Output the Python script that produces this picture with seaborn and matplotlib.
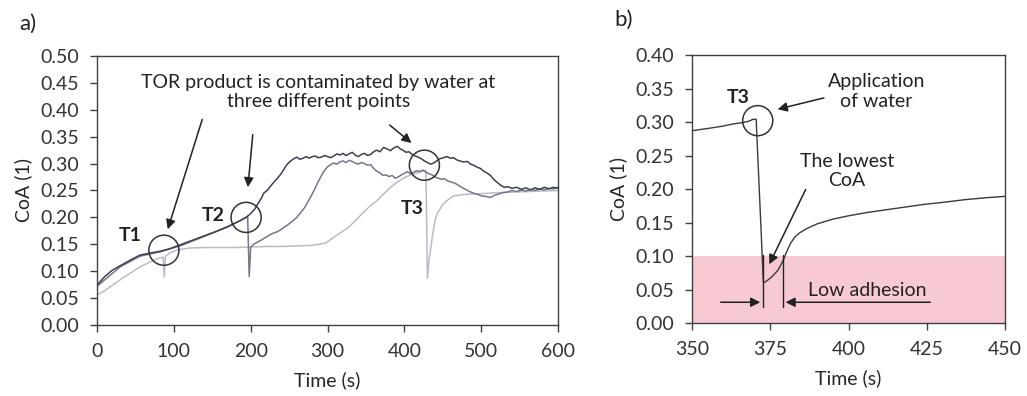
import numpy as np
import pandas as pd
import seaborn as sns
import matplotlib.pyplot as plt
from matplotlib.ticker import FormatStrFormatter, MultipleLocator

# ---------------- data: panel a (three TOR tests) ----------------
t_dark = [0, 10, 20, 30, 45, 56, 70, 82, 95, 110, 125, 140, 155, 170, 185, 194,
          199, 205, 210, 214, 217, 222, 228, 233, 239, 243, 246, 249, 252, 256,
          260, 264, 268, 272, 276, 280, 284, 288, 292, 296, 300, 304, 308, 312,
          316, 320, 324, 328, 332, 336, 340, 344, 348, 352, 356, 360, 364, 368,
          373, 378, 382, 386, 391, 395, 398, 402, 406, 410, 414, 418, 422, 426,
          430, 434, 438, 442, 446, 451, 455, 460, 464, 468, 472, 477, 482, 486,
          490, 495, 499, 503, 507, 512, 516, 520, 525, 530, 535, 540, 546, 552,
          558, 564, 570, 576, 582, 588, 594, 600]
coa_dark = [0.074, 0.090, 0.102, 0.110, 0.122, 0.130, 0.134, 0.137, 0.142, 0.150,
            0.158, 0.166, 0.174, 0.183, 0.193, 0.200,
            0.206, 0.215, 0.227, 0.236, 0.245, 0.251, 0.262, 0.270, 0.280, 0.289,
            0.296, 0.301, 0.305, 0.309, 0.312, 0.308, 0.310, 0.313, 0.310, 0.313,
            0.314, 0.311, 0.312, 0.315, 0.313, 0.311, 0.314, 0.318, 0.316, 0.319,
            0.315, 0.318, 0.321, 0.316, 0.313, 0.317, 0.319, 0.315, 0.317, 0.322,
            0.325, 0.322, 0.330, 0.327, 0.324, 0.329, 0.332, 0.327, 0.325, 0.321,
            0.322, 0.317, 0.314, 0.312, 0.309, 0.305, 0.302, 0.299, 0.301, 0.305,
            0.309, 0.311, 0.313, 0.310, 0.311, 0.307, 0.305, 0.303, 0.304, 0.299,
            0.297, 0.293, 0.291, 0.286, 0.283, 0.278, 0.271, 0.266, 0.260, 0.256,
            0.257, 0.254, 0.256, 0.252, 0.255, 0.251, 0.255, 0.252, 0.256, 0.253,
            0.256, 0.254]

t_mid = [0, 30, 56, 82, 110, 140, 170, 190, 196, 198, 200, 204, 210, 215, 222,
         228, 234, 239, 245, 250, 255, 260, 265, 270, 274, 278, 282, 285, 288,
         291, 294, 297, 300, 304, 308, 312, 316, 320, 324, 328, 332, 336, 340,
         344, 348, 352, 356, 360, 364, 368, 372, 376, 380, 384, 388, 392, 396,
         400, 404, 408, 412, 416, 420, 424, 428, 432, 436, 440, 444, 448, 452,
         456, 460, 465, 469, 473, 477, 481, 485, 490, 495, 500, 506, 512, 517,
         522, 528, 534, 540, 546, 552, 558, 564, 570, 576, 582, 588, 594, 600]
coa_mid = [0.072, 0.108, 0.128, 0.136, 0.148, 0.165, 0.182, 0.197, 0.202, 0.090,
           0.145, 0.150, 0.155, 0.159, 0.165, 0.170, 0.173, 0.177, 0.183, 0.188,
           0.194, 0.200, 0.209, 0.218, 0.228, 0.238, 0.249, 0.258, 0.267, 0.275,
           0.283, 0.289, 0.294, 0.298, 0.301, 0.299, 0.303, 0.305, 0.302, 0.306,
           0.304, 0.301, 0.299, 0.302, 0.300, 0.297, 0.298, 0.291, 0.286, 0.283,
           0.278, 0.279, 0.276, 0.278, 0.273, 0.275, 0.279, 0.282, 0.285, 0.281,
           0.284, 0.287, 0.285, 0.288, 0.284, 0.281, 0.279, 0.275, 0.273, 0.271,
           0.272, 0.268, 0.266, 0.264, 0.261, 0.257, 0.254, 0.251, 0.248, 0.245,
           0.243, 0.240, 0.239, 0.237, 0.241, 0.243, 0.246, 0.247, 0.250, 0.248,
           0.251, 0.249, 0.252, 0.250, 0.253, 0.251, 0.254, 0.253, 0.256]

t_light = [0, 10, 20, 30, 45, 56, 70, 80, 86, 87.5, 89, 95, 105, 120, 140, 160,
           180, 200, 220, 240, 260, 280, 297, 310, 326, 337, 347, 356, 365, 374,
           382, 390, 399, 408, 417, 424, 428, 430, 432, 435, 437, 440, 443, 450,
           456, 464, 480, 500, 520, 540, 560, 580, 600]
coa_light = [0.056, 0.064, 0.074, 0.084, 0.098, 0.108, 0.118, 0.124, 0.126, 0.090,
             0.128, 0.134, 0.140, 0.143, 0.144, 0.144, 0.144, 0.145, 0.146, 0.146,
             0.147, 0.148, 0.152, 0.165, 0.180, 0.195, 0.210, 0.222, 0.232, 0.245,
             0.256, 0.265, 0.273, 0.279, 0.283, 0.286, 0.287, 0.087, 0.120, 0.150,
             0.170, 0.195, 0.208, 0.224, 0.232, 0.240, 0.243, 0.244, 0.246, 0.247,
             0.248, 0.249, 0.250]

# ---------------- data: panel b (zoom on T3) ----------------
t_b = [350, 353, 356, 360, 363, 366, 368, 369.5, 370.5, 372.8, 373.3, 374.2, 375.5,
       377.5, 379.2, 380, 381.5, 382.8, 384.5, 386.7, 390, 395, 400, 406, 412,
       418, 424, 430, 437, 444, 450]
coa_b = [0.287, 0.289, 0.291, 0.294, 0.297, 0.299, 0.301, 0.304, 0.304, 0.061,
         0.061, 0.064, 0.069, 0.079, 0.094, 0.104, 0.119, 0.128, 0.135, 0.141,
         0.148, 0.155, 0.160, 0.165, 0.169, 0.173, 0.177, 0.180, 0.184, 0.187,
         0.189]

low_adhesion_limit = 0.10

sns.set_style("ticks")
plt.rcParams['font.family'] = ['Lato', 'DejaVu Sans']
plt.rcParams['axes.edgecolor'] = '#404040'
plt.rcParams['xtick.color'] = '#404040'
plt.rcParams['ytick.color'] = '#404040'
plt.rcParams['text.color'] = '#222222'

FS = 14

fig = plt.figure(figsize=(10.27, 3.96), dpi=100)
ax_a = fig.add_axes([0.0945, 0.1793, 0.4489, 0.6793])
ax_b = fig.add_axes([0.6738, 0.1843, 0.3048, 0.6768])

# ---- panel a ----
df_dark = pd.DataFrame({"t": t_dark, "coa": coa_dark})
df_mid = pd.DataFrame({"t": t_mid, "coa": coa_mid})
df_light = pd.DataFrame({"t": t_light, "coa": coa_light})
sns.lineplot(data=df_light, x="t", y="coa", ax=ax_a, color="#b9bcc4", lw=1.1,
             estimator=None, sort=False)
sns.lineplot(data=df_mid, x="t", y="coa", ax=ax_a, color="#74778a", lw=1.1,
             estimator=None, sort=False)
sns.lineplot(data=df_dark, x="t", y="coa", ax=ax_a, color="#3d4152", lw=1.1,
             estimator=None, sort=False)

ax_a.set_xlim(0, 600)
ax_a.set_ylim(0, 0.5)
ax_a.xaxis.set_major_locator(MultipleLocator(100))
ax_a.yaxis.set_major_locator(MultipleLocator(0.05))
ax_a.yaxis.set_major_formatter(FormatStrFormatter('%.2f'))
ax_a.set_xlabel("Time (s)", fontsize=FS, labelpad=8)
ax_a.set_ylabel("CoA (1)", fontsize=FS, labelpad=6)

# circles marking the three contamination points
circ = dict(marker='o', s=470, facecolors='none', edgecolors='#333333', linewidths=1.1, zorder=5)
ax_a.scatter([87, 194, 426], [0.139, 0.200, 0.297], **circ)
for lab, (x, y) in {"T1": (43, 0.167), "T2": (151, 0.204), "T3": (410, 0.217)}.items():
    ax_a.text(x, y, lab, fontsize=FS, fontweight='bold', ha='center', va='center')

ax_a.text(288, 0.433, "TOR product is contaminated by water at\nthree different points",
          fontsize=FS, ha='center', va='center', linespacing=1.2)
arrow = dict(arrowstyle='-|>', color='#222222', lw=1.1, mutation_scale=14)
ax_a.annotate("", xy=(91, 0.173), xytext=(138, 0.387), arrowprops=arrow)
ax_a.annotate("", xy=(196, 0.251), xytext=(203, 0.359), arrowprops=arrow)
ax_a.annotate("", xy=(412, 0.335), xytext=(378, 0.375), arrowprops=arrow)

# ---- panel b ----
ax_b.axhspan(0, low_adhesion_limit, color='#f6c9d3', lw=0, zorder=0)
df_b = pd.DataFrame({"t": t_b, "coa": coa_b})
sns.lineplot(data=df_b, x="t", y="coa", ax=ax_b, color="#3a3a3a", lw=1.0,
             estimator=None, sort=False)
ax_b.set_xlim(350, 450)
ax_b.set_ylim(0, 0.4)
ax_b.xaxis.set_major_locator(MultipleLocator(25))
ax_b.yaxis.set_major_locator(MultipleLocator(0.05))
ax_b.yaxis.set_major_formatter(FormatStrFormatter('%.2f'))
ax_b.set_xlabel("Time (s)", fontsize=FS, labelpad=8)
ax_b.set_ylabel("CoA (1)", fontsize=FS, labelpad=6)

ax_b.scatter([371], [0.302], **circ)
ax_b.text(364.7, 0.336, "T3", fontsize=FS, fontweight='bold', ha='center', va='center')
ax_b.text(409, 0.346, "Application\nof water", fontsize=FS, ha='center', va='center',
          linespacing=1.2)
ax_b.annotate("", xy=(376.5, 0.318), xytext=(393, 0.337), arrowprops=arrow)
ax_b.text(399.5, 0.227, "The lowest\nCoA", fontsize=FS, ha='center', va='center',
          linespacing=1.2)
ax_b.annotate("", xy=(374.3, 0.084), xytext=(386.7, 0.203), arrowprops=arrow)

# low-adhesion window markers
ax_b.plot([372.7, 372.7], [0.024, 0.101], color='#222222', lw=1.0)
ax_b.plot([379.0, 379.0], [0.024, 0.101], color='#222222', lw=1.0)
ax_b.annotate("", xy=(372.7, 0.031), xytext=(358.3, 0.031), arrowprops=arrow)
ax_b.annotate("", xy=(379.0, 0.031), xytext=(427, 0.031), arrowprops=arrow)
ax_b.text(406, 0.049, "Low adhesion", fontsize=FS, ha='center', va='center')

for ax in (ax_a, ax_b):
    for s in ax.spines.values():
        s.set_visible(True)
        s.set_linewidth(1.0)
    ax.tick_params(direction='out', length=5, width=1.0, pad=8, labelsize=FS,
                   labelcolor='#333333')

fig.text(0.027, 0.94, "a)", fontsize=FS + 2, ha='center', va='center')
fig.text(0.607, 0.95, "b)", fontsize=FS + 2, ha='center', va='center')

fig.savefig("out.png", dpi=100, facecolor='white')
